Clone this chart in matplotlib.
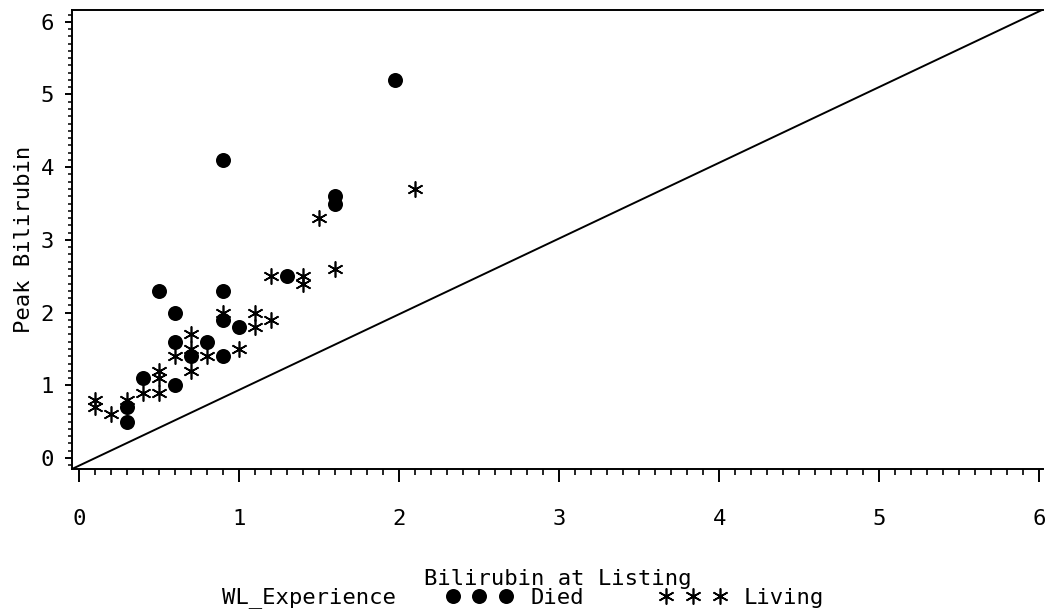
import matplotlib
matplotlib.use("Agg")
import matplotlib.pyplot as plt
from matplotlib.lines import Line2D
from matplotlib.ticker import MultipleLocator

# ---- data ----
died_x = [0.3, 0.3, 0.4, 0.5, 0.6, 0.6, 0.6, 0.7, 0.8, 0.9, 0.9, 0.9, 0.9, 1.0, 1.3, 1.6, 1.6, 1.97]
died_y = [0.5, 0.7, 1.1, 2.3, 1.0, 1.6, 2.0, 1.4, 1.6, 1.4, 1.9, 2.3, 4.1, 1.8, 2.5, 3.5, 3.6, 5.2]

living_x = [0.1, 0.1, 0.2, 0.3, 0.4, 0.5, 0.5, 0.5, 0.6, 0.7, 0.7, 0.7, 0.8, 0.9,
            1.0, 1.1, 1.1, 1.2, 1.2, 1.4, 1.4, 1.5, 1.6, 2.1]
living_y = [0.7, 0.8, 0.6, 0.8, 0.9, 0.9, 1.1, 1.2, 1.4, 1.2, 1.5, 1.7, 1.4, 2.0,
            1.5, 1.8, 2.0, 1.9, 2.5, 2.4, 2.5, 3.3, 2.6, 3.7]

x_ticks = [0, 1, 2, 3, 4, 5, 6]
y_ticks = [0, 1, 2, 3, 4, 5, 6]
x_limits = [-0.046, 6.023]
y_limits = [-0.151, 6.169]

plt.rcParams['font.family'] = ['DejaVu Sans Mono', 'DejaVu Sans']
FS = 16

fig = plt.figure(figsize=(10.45, 6.14), dpi=100)
ax = fig.add_axes([72 / 1045, 1 - 469 / 614, (1043 - 72) / 1045, (469 - 9.5) / 614])

star = (6, 2, 0)
CIRC = 10.8
STAR = 11.5
ax.plot(died_x, died_y, linestyle='none', marker='o', markersize=CIRC,
        color='black', markeredgewidth=0, zorder=3)
ax.plot(living_x, living_y, linestyle='none', marker=star, markersize=STAR,
        color='black', markeredgewidth=1.2, zorder=4)

# diagonal reference line corner to corner
ax.plot(x_limits, y_limits, color='black', linewidth=1.4, zorder=2)

ax.set_xlim(x_limits)
ax.set_ylim(y_limits)
ax.set_xticks(x_ticks)
ax.set_yticks(y_ticks)
ax.xaxis.set_minor_locator(MultipleLocator(0.1))
ax.yaxis.set_minor_locator(MultipleLocator(0.1))

for s in ['left', 'top', 'bottom']:
    ax.spines[s].set_linewidth(1.4)
ax.spines['right'].set_visible(False)

ax.tick_params(axis='x', which='major', direction='out', length=9.5, width=1.4,
               pad=19, labelsize=FS)
ax.tick_params(axis='x', which='minor', direction='out', length=4.5, width=1.2)
ax.tick_params(axis='y', which='major', direction='out', length=5, width=1.4,
               pad=8, labelsize=FS)
ax.tick_params(axis='y', which='minor', direction='out', length=2.8, width=1.1)

ax.set_xlabel('Bilirubin at Listing', fontsize=FS, labelpad=29)
ax.set_ylabel('Peak Bilirubin', fontsize=FS, labelpad=5)

# legend
fig.text(222 / 1045, 1 - 598 / 614, 'WL_Experience', fontsize=FS,
         ha='left', va='center')
handles = [Line2D([], [], linestyle='none', marker='o', markersize=CIRC,
                  color='black', markeredgewidth=0),
           Line2D([], [], linestyle='none', marker=star, markersize=STAR,
                  color='black', markeredgewidth=1.2)]
fig.legend(handles, ['Died', 'Living'], ncol=2, numpoints=3, frameon=False,
           loc='center left', bbox_to_anchor=(446 / 1045, 1 - 598 / 614),
           fontsize=FS, handlelength=3.0, handletextpad=0.8,
           columnspacing=3.4, borderpad=0, borderaxespad=0)

fig.savefig('out.png', dpi=100)
